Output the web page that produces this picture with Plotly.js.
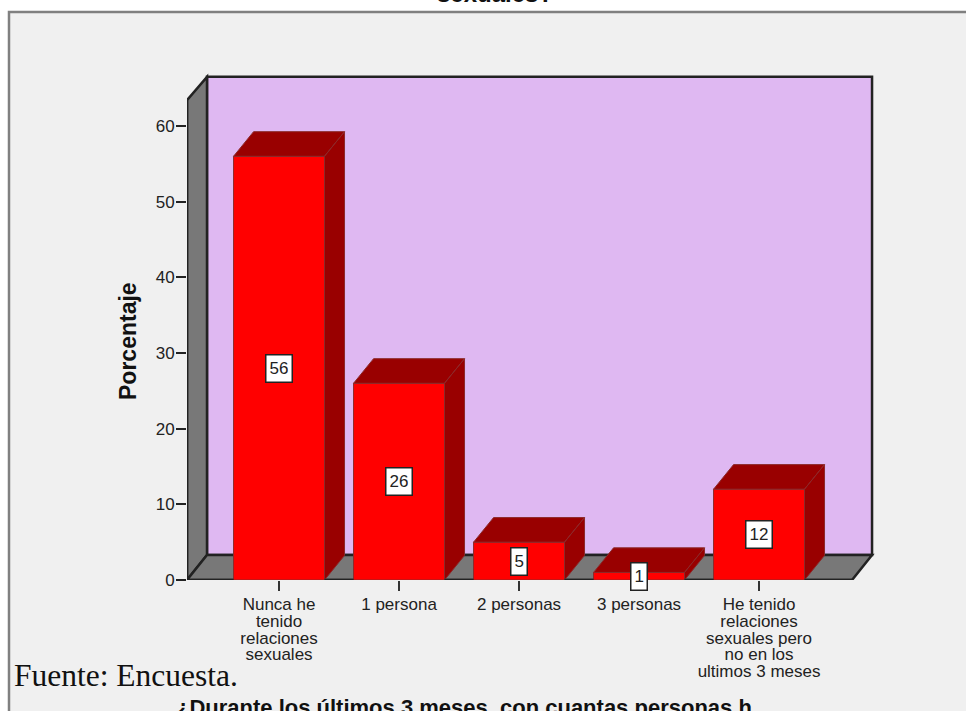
<!DOCTYPE html>
<html>
<head>
<meta charset="utf-8">
<script src="https://cdn.plot.ly/plotly-3.0.1.min.js"></script>
<style>html,body{margin:0;padding:0;background:#fff}#chart{width:966px;height:711px}</style>
</head>
<body>
<div id="chart"></div>
<script>
var categories = ["Nunca he<br>tenido<br>relaciones<br>sexuales", "1 persona", "2 personas", "3 personas", "He tenido<br>relaciones<br>sexuales pero<br>no en los<br>ultimos 3 meses"];
var porcentaje = [56, 26, 5, 1, 12];
var yTicks = [0, 10, 20, 30, 40, 50, 60];

var positions = categories.map(function (c, i) { return i; });
var barWidth = 0.758, depthX = 0.1667, depthY = 3.25;
var xLeft = -0.767, xRight = 4.775, yTop = 63.4, yBack = 66.5, floorBack = 3.3;
var frontRed = '#ff0000', darkRed = '#990000', edge = '#8c2a2a', wallGray = '#787878', wallLine = '#222222';

function poly(x, y, color) {
  return {type: 'scatter', mode: 'lines', x: x, y: y, fill: 'toself', fillcolor: color,
    line: {color: edge, width: 1}, hoverinfo: 'skip', showlegend: false};
}
var traces = [];
traces.push({type: 'bar', x: positions, y: porcentaje, width: barWidth,
  marker: {color: frontRed, line: {color: edge, width: 1}}, showlegend: false});
porcentaje.forEach(function (v, i) {
  var l = i - barWidth / 2, r = i + barWidth / 2;
  traces.push(poly([l, r, r + depthX, l + depthX, l], [v, v, v + depthY, v + depthY, v], darkRed));
  traces.push(poly([r, r + depthX, r + depthX, r, r], [0, depthY, v + depthY, v, 0], darkRed));
});
// front floor edge, visible only between the bars, plus the front-left wall edge
var edgeX = [xLeft, xLeft, null], edgeY = [0, yTop, null], cursor = xLeft;
positions.forEach(function (p) {
  edgeX.push(cursor, p - barWidth / 2, null); edgeY.push(0, 0, null);
  cursor = p + barWidth / 2;
});
edgeX.push(cursor, xRight); edgeY.push(0, 0);
traces.push({type: 'scatter', mode: 'lines', x: edgeX, y: edgeY,
  cliponaxis: false, line: {color: wallLine, width: 2.5}, hoverinfo: 'skip', showlegend: false});

var plotL = 187, plotW = 696, plotT = 66, plotH = 514;
function px(x) { return (x - plotL) / plotW; }
function py(y) { return (plotT + plotH - y) / plotH; }

function path(points) {
  return 'M' + points.map(function (p) { return p[0] + ',' + p[1]; }).join('L') + 'Z';
}
var wallShapes = [
  {type: 'rect', xref: 'paper', yref: 'paper', x0: px(9), x1: px(975), y0: py(720), y1: py(12), layer: 'below',
    fillcolor: '#f0f0f0', line: {color: '#808080', width: 2.5}},
  {type: 'path', xref: 'x', yref: 'y', layer: 'below', fillcolor: '#dfb8f2', line: {color: wallLine, width: 2.5},
    path: path([[xLeft + depthX, floorBack], [xRight + depthX, floorBack], [xRight + depthX, yBack], [xLeft + depthX, yBack]])},
  {type: 'path', xref: 'x', yref: 'y', layer: 'below', fillcolor: wallGray, line: {color: wallLine, width: 2.5},
    path: path([[xLeft, 0], [xLeft + depthX, floorBack], [xLeft + depthX, yBack], [xLeft, yTop]])},
  {type: 'path', xref: 'x', yref: 'y', layer: 'below', fillcolor: wallGray, line: {color: wallLine, width: 2.5},
    path: path([[xLeft, 0], [xRight, 0], [xRight + depthX, floorBack], [xLeft + depthX, floorBack]])}
];

var annotations = porcentaje.map(function (v, i) {
  return {x: i, y: v / 2, xref: 'x', yref: 'y', text: String(v), showarrow: false,
    font: {family: 'Liberation Sans, Arial, sans-serif', size: 17, color: '#222'},
    bgcolor: '#ffffff', bordercolor: '#222', borderwidth: 1.5, borderpad: 3, height: 20};
});
function note(x, y, text, family, size, extra) {
  var a = {xref: 'paper', yref: 'paper', x: px(x), y: py(y), xanchor: 'center', yanchor: 'middle', text: text,
    showarrow: false, font: {family: family, size: size, color: '#111'}};
  for (var k in (extra || {})) { a[k] = extra[k]; }
  annotations.push(a);
}
var sans = 'Liberation Sans, Arial, sans-serif';
note(128, 341, '<b>Porcentaje</b>', sans, 23, {textangle: -90});
note(12, 675, 'Fuente: Encuesta.', 'Liberation Serif, Times New Roman, serif', 31.5, {xanchor: 'left'});
note(464, 707, '<b>¿Durante los últimos 3 meses, con cuantas personas h</b>', sans, 22);
note(495, -7, '<b>sexuales?</b>', sans, 24);

var layout = {
  width: 966, height: 711, autosize: false,
  margin: {l: plotL, r: 966 - plotL - plotW, t: plotT, b: 711 - plotT - plotH, pad: 0},
  paper_bgcolor: '#ffffff', plot_bgcolor: 'rgba(0,0,0,0)',
  showlegend: false, bargap: 0,
  xaxis: {range: [xLeft, 5.033], tickmode: 'array', tickvals: positions, ticktext: categories,
    ticks: 'outside', ticklen: 10, tickwidth: 1.5, tickcolor: '#333', showgrid: false, zeroline: false, showline: false,
    tickangle: 0, ticklabelstandoff: -1, tickfont: {family: sans, size: 17, color: '#222'}},
  yaxis: {range: [0, 67.93], tickmode: 'array', tickvals: yTicks, ticktext: yTicks.map(String),
    ticks: 'outside', ticklen: 10, tickwidth: 2, tickcolor: '#222', showgrid: false, zeroline: false, showline: false,
    ticklabelstandoff: -2, tickfont: {family: sans, size: 17, color: '#222'}},
  shapes: wallShapes,
  annotations: annotations
};

function tightenLabels() {
  document.querySelectorAll('#chart .xtick text tspan.line').forEach(function (t) {
    var dy = parseFloat(t.getAttribute('dy'));
    if (dy) { t.setAttribute('dy', (dy * 0.75) + 'em'); }
  });
}
Plotly.newPlot('chart', traces, layout, {displayModeBar: false, staticPlot: true}).then(tightenLabels);
</script>
</body>
</html>
